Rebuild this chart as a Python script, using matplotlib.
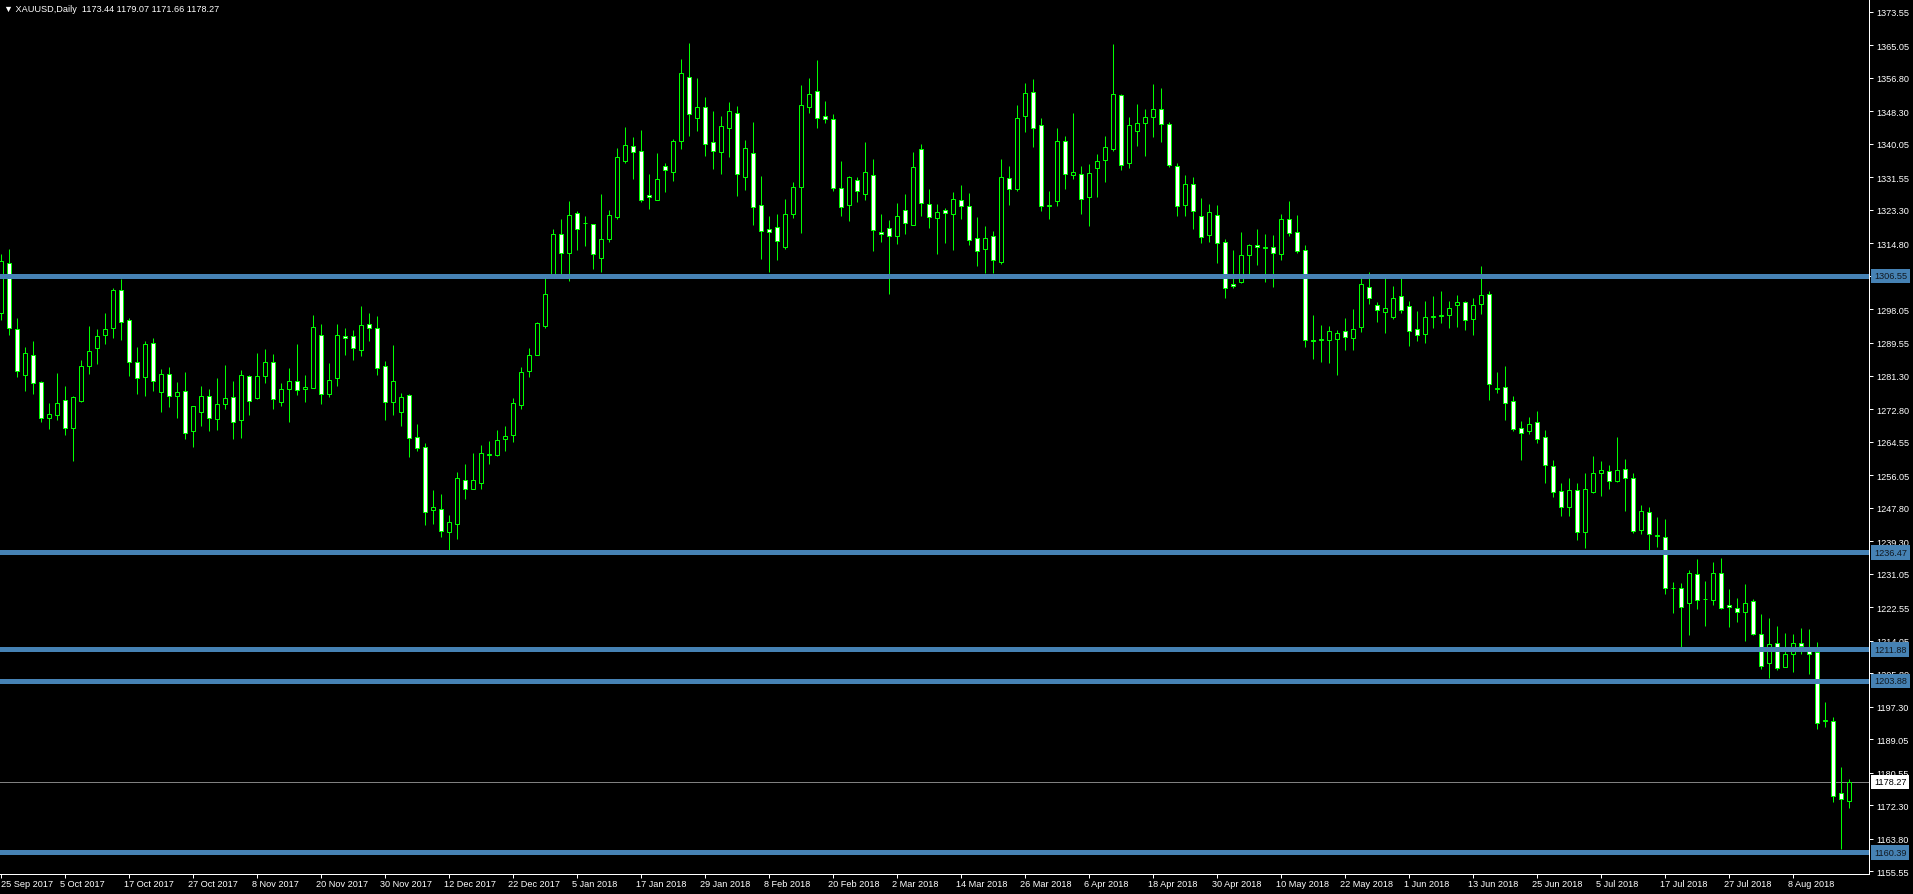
import matplotlib
matplotlib.use("Agg")
import matplotlib.pyplot as plt
import matplotlib.transforms as mtransforms
import numpy as np

plt.rcParams["font.family"] = ["Liberation Sans", "DejaVu Sans"]

symbol = "XAUUSD,Daily"

# daily OHLC, 25 Sep 2017 .. 15 Aug 2018
opens = [
    1297.1, 1309.8, 1293.1, 1281.5, 1286.4, 1279.6, 1270.5, 1271.4, 1275.0, 1268.1,
    1274.9, 1283.6, 1288.2, 1291.5, 1293.3, 1302.9, 1295.3, 1284.7, 1280.9, 1289.5,
    1277.1, 1281.6, 1276.2, 1277.3, 1267.3, 1272.0, 1276.0, 1270.4, 1274.2, 1275.8,
    1270.1, 1281.1, 1275.7, 1281.3, 1284.7, 1274.5, 1277.8, 1279.8, 1277.8, 1278.1,
    1291.7, 1276.7, 1280.6, 1291.2, 1291.2, 1287.7, 1294.3, 1293.3, 1283.6, 1274.5,
    1272.1, 1276.3, 1265.6, 1263.3, 1247.1, 1247.4, 1241.5, 1243.7, 1254.7, 1252.4,
    1254.0, 1261.2, 1261.1, 1265.2, 1266.2, 1273.8, 1282.4, 1286.5, 1293.8, 1306.5,
    1317.1, 1312.4, 1322.4, 1319.9, 1319.8, 1311.2, 1315.8, 1321.6, 1335.8, 1339.4,
    1338.2, 1327.0, 1325.9, 1334.4, 1332.8, 1340.7, 1356.9, 1346.7, 1349.3, 1340.4,
    1337.9, 1344.0, 1347.8, 1331.6, 1337.7, 1324.5, 1318.4, 1318.9, 1313.8, 1322.2,
    1329.0, 1349.3, 1353.4, 1347.0, 1346.3, 1328.8, 1324.5, 1330.8, 1327.3, 1332.1,
    1317.6, 1318.6, 1316.6, 1323.2, 1319.6, 1338.7, 1324.7, 1321.2, 1323.4, 1322.2,
    1325.7, 1324.2, 1316.1, 1313.3, 1316.6, 1310.0, 1331.3, 1328.5, 1347.0, 1353.1,
    1344.8, 1324.3, 1325.5, 1340.7, 1332.1, 1332.3, 1326.7, 1333.9, 1335.9, 1338.7,
    1352.4, 1335.1, 1343.2, 1345.3, 1346.8, 1348.8, 1345.0, 1334.4, 1324.5, 1329.8,
    1321.7, 1316.9, 1321.9, 1315.1, 1304.4, 1304.9, 1311.8, 1314.3, 1313.7, 1313.8,
    1312.0, 1320.9, 1317.6, 1313.1, 1290.0, 1290.4, 1290.2, 1290.5, 1292.5, 1290.7,
    1293.5, 1303.7, 1299.1, 1297.3, 1296.1, 1301.4, 1298.9, 1293.0, 1291.8, 1296.1,
    1296.4, 1296.6, 1299.1, 1299.9, 1295.6, 1299.4, 1301.9, 1278.0, 1278.3, 1274.8,
    1267.9, 1267.2, 1269.4, 1265.6, 1258.3, 1251.9, 1247.9, 1252.2, 1241.5, 1251.7,
    1256.5, 1257.0, 1254.5, 1257.5, 1255.2, 1242.1, 1246.6, 1240.7, 1240.3, 1227.4,
    1227.4, 1223.5, 1230.9, 1224.5, 1224.3, 1231.1, 1223.0, 1222.3, 1221.3, 1224.0,
    1215.8, 1208.3, 1213.4, 1207.5, 1210.8, 1213.4, 1211.4, 1211.1, 1193.8, 1193.8,
    1175.3, 1173.44,
]
highs = [
    1312.0, 1313.4, 1295.9, 1288.5, 1290.1, 1279.8, 1274.3, 1282.0, 1278.7, 1276.1,
    1285.2, 1293.9, 1293.1, 1297.2, 1303.4, 1305.8, 1295.9, 1288.5, 1290.1, 1290.8,
    1283.0, 1283.5, 1279.7, 1282.2, 1273.5, 1278.6, 1277.9, 1280.7, 1283.9, 1279.9,
    1282.6, 1281.4, 1287.0, 1288.0, 1286.8, 1279.4, 1283.2, 1289.3, 1281.4, 1296.7,
    1294.4, 1284.5, 1294.4, 1293.4, 1292.9, 1298.9, 1297.2, 1296.4, 1284.9, 1289.0,
    1276.8, 1276.5, 1269.0, 1264.2, 1252.3, 1251.3, 1245.9, 1256.8, 1258.9, 1261.7,
    1263.7, 1264.8, 1267.4, 1268.6, 1275.7, 1283.4, 1288.4, 1294.8, 1306.1, 1318.4,
    1320.9, 1325.5, 1323.0, 1321.7, 1319.8, 1327.3, 1323.4, 1339.0, 1344.3, 1341.7,
    1343.6, 1332.4, 1337.8, 1335.2, 1341.3, 1361.6, 1365.6, 1356.8, 1351.9, 1348.4,
    1347.0, 1350.7, 1349.7, 1341.0, 1345.6, 1331.8, 1321.7, 1322.2, 1326.0, 1330.3,
    1355.0, 1356.7, 1361.2, 1350.9, 1347.6, 1335.7, 1332.0, 1331.6, 1340.5, 1336.1,
    1322.2, 1320.7, 1325.0, 1327.3, 1337.9, 1339.9, 1328.5, 1324.7, 1323.7, 1327.8,
    1329.6, 1327.5, 1321.4, 1319.1, 1317.9, 1336.1, 1334.4, 1349.8, 1355.4, 1356.4,
    1346.5, 1328.0, 1344.2, 1342.0, 1347.8, 1334.4, 1334.9, 1337.4, 1342.0, 1365.5,
    1352.6, 1346.8, 1350.1, 1348.9, 1355.2, 1354.2, 1345.5, 1335.1, 1332.1, 1331.6,
    1326.2, 1324.7, 1324.5, 1315.9, 1313.1, 1317.8, 1314.6, 1318.4, 1317.1, 1316.9,
    1322.2, 1325.6, 1322.0, 1314.3, 1296.7, 1294.0, 1293.8, 1292.8, 1295.8, 1298.1,
    1306.2, 1307.5, 1299.9, 1306.5, 1303.9, 1306.2, 1300.1, 1297.6, 1300.1, 1301.5,
    1302.7, 1300.2, 1301.7, 1300.2, 1300.9, 1309.1, 1302.7, 1282.2, 1283.7, 1276.0,
    1269.7, 1270.7, 1272.2, 1267.4, 1259.8, 1254.0, 1255.2, 1254.0, 1256.5, 1260.9,
    1259.6, 1258.6, 1265.7, 1260.1, 1256.5, 1248.4, 1247.9, 1245.3, 1244.8, 1228.9,
    1228.6, 1231.9, 1234.7, 1229.1, 1233.9, 1234.9, 1227.1, 1224.8, 1228.4, 1224.5,
    1220.7, 1219.7, 1217.7, 1215.9, 1215.7, 1217.2, 1216.9, 1213.6, 1198.4, 1194.6,
    1182.0, 1179.07,
]
lows = [
    1295.5, 1291.6, 1281.0, 1277.4, 1276.5, 1269.4, 1267.8, 1270.1, 1266.1, 1259.5,
    1274.7, 1281.8, 1284.1, 1289.3, 1290.7, 1290.2, 1281.3, 1276.7, 1276.2, 1277.5,
    1272.1, 1273.4, 1270.5, 1265.2, 1263.3, 1268.6, 1267.3, 1267.5, 1272.9, 1265.2,
    1265.5, 1271.4, 1275.4, 1279.4, 1272.8, 1273.6, 1269.6, 1276.4, 1274.7, 1278.1,
    1274.2, 1275.9, 1278.7, 1286.6, 1285.3, 1286.3, 1290.1, 1281.4, 1269.9, 1271.4,
    1268.6, 1260.7, 1262.2, 1243.5, 1243.6, 1240.4, 1237.1, 1239.9, 1250.1, 1252.4,
    1252.4, 1258.8, 1260.8, 1262.2, 1264.4, 1272.8, 1280.9, 1286.5, 1293.3, 1306.0,
    1307.0, 1305.2, 1313.1, 1314.2, 1308.3, 1307.6, 1315.1, 1321.0, 1335.3, 1331.2,
    1325.2, 1323.5, 1325.9, 1327.9, 1330.6, 1338.8, 1342.1, 1343.3, 1337.1, 1333.7,
    1332.3, 1336.8, 1326.9, 1328.4, 1319.6, 1310.9, 1307.5, 1310.7, 1313.5, 1321.2,
    1317.4, 1348.0, 1344.2, 1345.3, 1328.0, 1321.8, 1320.6, 1325.4, 1325.9, 1313.0,
    1315.1, 1302.0, 1314.7, 1317.1, 1319.6, 1321.7, 1318.6, 1312.0, 1314.8, 1313.2,
    1320.9, 1314.5, 1309.2, 1307.3, 1307.3, 1309.5, 1324.5, 1328.2, 1343.0, 1339.3,
    1322.9, 1320.9, 1324.2, 1328.5, 1331.1, 1322.2, 1319.3, 1326.5, 1330.5, 1338.2,
    1333.4, 1333.9, 1339.4, 1337.1, 1341.7, 1340.4, 1334.3, 1321.7, 1321.7, 1318.4,
    1314.8, 1315.1, 1309.8, 1300.9, 1303.4, 1304.7, 1306.8, 1309.3, 1304.9, 1303.7,
    1310.5, 1316.6, 1312.5, 1288.5, 1285.4, 1284.8, 1284.6, 1281.5, 1287.7, 1287.7,
    1292.3, 1299.4, 1295.0, 1292.0, 1295.6, 1297.1, 1288.7, 1290.0, 1289.5, 1293.4,
    1294.5, 1293.4, 1293.7, 1292.9, 1291.7, 1297.0, 1275.0, 1276.8, 1270.1, 1267.3,
    1260.0, 1266.4, 1264.1, 1254.0, 1250.4, 1245.6, 1245.8, 1239.5, 1237.6, 1251.5,
    1250.8, 1252.4, 1254.2, 1247.0, 1241.3, 1241.0, 1236.9, 1237.9, 1225.8, 1221.0,
    1212.5, 1215.4, 1222.0, 1217.9, 1223.0, 1222.0, 1217.4, 1218.7, 1213.9, 1215.5,
    1206.8, 1204.5, 1206.5, 1207.3, 1206.2, 1210.6, 1205.5, 1191.6, 1192.1, 1173.1,
    1161.1, 1171.66,
]
closes = [
    1310.3, 1293.3, 1282.4, 1286.9, 1279.5, 1270.5, 1271.5, 1274.3, 1267.9, 1275.8,
    1283.7, 1287.4, 1291.3, 1293.0, 1302.9, 1294.8, 1284.7, 1280.6, 1289.2, 1279.8,
    1281.6, 1276.0, 1277.0, 1266.6, 1273.5, 1276.0, 1270.6, 1274.2, 1275.5, 1269.4,
    1281.4, 1274.8, 1281.1, 1284.7, 1275.4, 1277.8, 1279.8, 1277.7, 1278.3, 1293.5,
    1276.5, 1280.1, 1291.7, 1290.7, 1288.2, 1294.0, 1293.3, 1283.1, 1274.5, 1279.8,
    1275.8, 1265.4, 1262.8, 1246.6, 1247.9, 1241.8, 1244.1, 1255.2, 1252.4, 1254.7,
    1261.6, 1261.5, 1265.0, 1266.0, 1274.4, 1282.2, 1286.6, 1294.5, 1302.1, 1317.1,
    1312.4, 1322.1, 1318.5, 1320.0, 1312.2, 1316.0, 1321.9, 1336.8, 1339.7, 1337.9,
    1325.7, 1326.5, 1331.1, 1333.3, 1340.7, 1357.9, 1347.7, 1349.3, 1339.9, 1338.2,
    1344.5, 1348.3, 1332.3, 1338.9, 1324.0, 1317.9, 1317.6, 1315.4, 1322.2, 1329.0,
    1349.8, 1352.6, 1346.5, 1346.3, 1328.8, 1324.0, 1331.6, 1328.0, 1332.8, 1318.1,
    1317.1, 1316.6, 1321.7, 1319.9, 1334.1, 1325.0, 1321.4, 1322.7, 1322.4, 1326.0,
    1324.4, 1315.6, 1313.0, 1316.3, 1310.5, 1331.6, 1328.5, 1346.5, 1352.9, 1344.2,
    1324.2, 1324.5, 1340.7, 1332.3, 1332.8, 1326.0, 1332.6, 1335.6, 1339.2, 1352.6,
    1334.6, 1344.8, 1345.3, 1346.8, 1348.8, 1345.0, 1334.6, 1324.2, 1329.8, 1323.0,
    1316.4, 1322.7, 1314.8, 1303.4, 1303.9, 1311.8, 1314.3, 1313.8, 1313.8, 1312.3,
    1320.9, 1317.4, 1312.8, 1290.2, 1290.2, 1290.6, 1292.5, 1292.2, 1291.0, 1293.0,
    1304.4, 1300.9, 1297.8, 1298.3, 1300.9, 1297.8, 1292.5, 1291.5, 1296.1, 1296.3,
    1296.6, 1298.3, 1299.9, 1295.3, 1299.1, 1301.6, 1279.1, 1278.2, 1274.3, 1267.7,
    1266.6, 1268.9, 1265.1, 1258.5, 1251.7, 1247.9, 1252.2, 1241.5, 1252.4, 1256.5,
    1257.3, 1254.5, 1257.3, 1255.2, 1241.8, 1246.9, 1241.0, 1240.8, 1227.4, 1227.5,
    1222.5, 1231.1, 1224.3, 1224.6, 1231.1, 1222.3, 1222.5, 1221.3, 1223.5, 1215.7,
    1207.6, 1213.1, 1207.0, 1210.8, 1213.4, 1212.6, 1210.8, 1193.3, 1193.9, 1174.6,
    1173.8, 1178.27,
]

# horizontal levels drawn on the chart
level_lines = [1306.55, 1236.47, 1211.88, 1203.88, 1160.39]

price_ticks = [
    1155.55, 1163.80, 1172.30, 1180.55, 1189.05, 1197.30, 1205.80, 1214.05, 1222.55,
    1231.05, 1239.30, 1247.80, 1256.05, 1264.55, 1272.80, 1281.30, 1289.55, 1298.05,
    1306.55, 1314.80, 1323.30, 1331.55, 1340.05, 1348.30, 1356.80, 1365.05, 1373.55,
]

date_labels = [
    "25 Sep 2017", "5 Oct 2017", "17 Oct 2017", "27 Oct 2017", "8 Nov 2017",
    "20 Nov 2017", "30 Nov 2017", "12 Dec 2017", "22 Dec 2017", "5 Jan 2018",
    "17 Jan 2018", "29 Jan 2018", "8 Feb 2018", "20 Feb 2018", "2 Mar 2018",
    "14 Mar 2018", "26 Mar 2018", "6 Apr 2018", "18 Apr 2018", "30 Apr 2018",
    "10 May 2018", "22 May 2018", "1 Jun 2018", "13 Jun 2018", "25 Jun 2018",
    "5 Jul 2018", "17 Jul 2018", "27 Jul 2018", "8 Aug 2018",
]
date_step = 8

GREEN = "#00ff00"
LEVEL = "#4682b4"
FS = 6.6
PX = 0.72  # one pixel in points at dpi 100

W, H = 1913, 895
plot_w, plot_h = 1869, 874.5
bar_px = 8.0

fig = plt.figure(figsize=(W / 100, H / 100), dpi=100, facecolor="black")
ax = fig.add_axes([0, 1 - plot_h / H, plot_w / W, plot_h / H])
ax.set_facecolor("black")

o = np.array(opens)
c = np.array(closes)
x = np.arange(len(c))
bull = c >= o

ax.vlines(x, lows, highs, color=GREEN, lw=PX, zorder=2)
ax.bar(x, np.abs(c - o), bottom=np.minimum(o, c), width=0.5,
       color=np.where(bull, "black", "white"), edgecolor=GREEN,
       linewidth=PX, zorder=3)

# last price line
ax.axhline(closes[-1], color="#808080", lw=PX, zorder=1)

for lvl in level_lines:
    ax.axhline(lvl, color=LEVEL, lw=3.6, zorder=4)

x0 = -0.7 / bar_px
ax.set_xlim(x0, x0 + plot_w / bar_px)
ax.set_ylim(1155.01, 1376.79)

for side in ("top", "left"):
    ax.spines[side].set_visible(False)
for side in ("right", "bottom"):
    ax.spines[side].set_color("white")
    ax.spines[side].set_linewidth(PX)

ax.yaxis.tick_right()
ax.set_yticks(price_ticks)
ax.set_yticklabels([f"{v:.2f}" for v in price_ticks])
ax.tick_params(axis="y", colors="white", labelsize=FS, length=3, width=PX, pad=2)

ax.set_xticks(np.arange(len(date_labels)) * date_step)
ax.set_xticklabels(date_labels)
ax.tick_params(axis="x", colors="white", labelsize=FS, length=3, width=PX, pad=1)
shift = mtransforms.ScaledTranslation(-5 / 100, 0, fig.dpi_scale_trans)
for i, lbl in enumerate(ax.get_xticklabels()):
    lbl.set_horizontalalignment("left")
    if i > 0:
        lbl.set_transform(lbl.get_transform() + shift)

trans = mtransforms.blended_transform_factory(ax.transAxes, ax.transData)
for lvl in level_lines:
    ax.text(1 + 5 / plot_w, lvl, f"{lvl:.2f}", transform=trans, ha="left", va="center",
            fontsize=FS, color="#101820", zorder=6, clip_on=False,
            bbox=dict(boxstyle="square,pad=0.3", fc=LEVEL, ec="none"))
ax.text(1 + 5 / plot_w, closes[-1], f"{closes[-1]:.2f}", transform=trans, ha="left",
        va="center", fontsize=FS, color="black", zorder=6, clip_on=False,
        bbox=dict(boxstyle="square,pad=0.3", fc="white", ec="none"))

title = "\u25bc " + symbol + "  " + " ".join(
    f"{v:.2f}" for v in (opens[-1], highs[-1], lows[-1], closes[-1]))
fig.text(4 / W, 1 - 10 / H, title, color="white", fontsize=FS, va="center", ha="left")

fig.savefig("out.png", dpi=100, facecolor="black")
